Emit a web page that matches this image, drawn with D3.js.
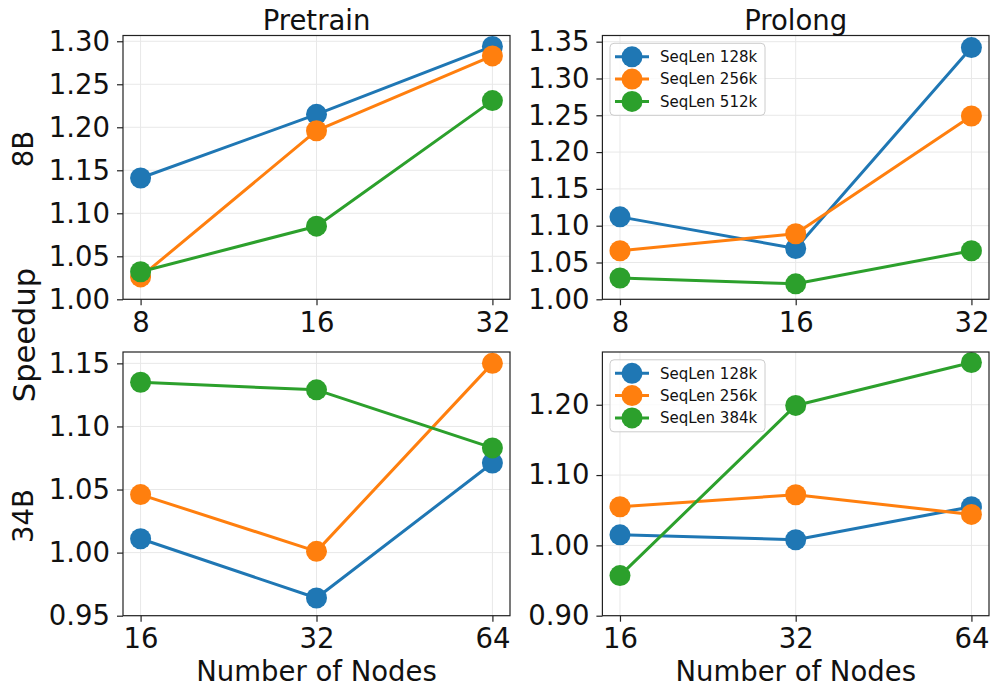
<!DOCTYPE html>
<html>
<head>
<meta charset="utf-8">
<script src="https://cdn.jsdelivr.net/npm/d3@7"></script>
<style>
  html, body { margin: 0; padding: 0; background: #fff; }
  svg { display: block; font-family: "DejaVu Sans", sans-serif; }
</style>
</head>
<body>
<svg id="chart" width="990" height="686"></svg>
<script>
// Node counts per model size
const nodes8B = [8, 16, 32];
const nodes34B = [16, 32, 64];

// Sequence-length series names
const seqLabels8B = ["SeqLen 128k", "SeqLen 256k", "SeqLen 512k"];
const seqLabels34B = ["SeqLen 128k", "SeqLen 256k", "SeqLen 384k"];
const seriesColors = ["#1f77b4", "#ff7f0e", "#2ca02c"];

// Speedup values, 8B model
const pretrain8B_128k = [1.141, 1.215, 1.294];
const pretrain8B_256k = [1.026, 1.196, 1.283];
const pretrain8B_512k = [1.032, 1.085, 1.231];
const prolong8B_128k = [1.112, 1.069, 1.342];
const prolong8B_256k = [1.066, 1.089, 1.249];
const prolong8B_512k = [1.029, 1.021, 1.066];

// Speedup values, 34B model
const pretrain34B_128k = [1.011, 0.964, 1.071];
const pretrain34B_256k = [1.046, 1.001, 1.150];
const pretrain34B_384k = [1.135, 1.129, 1.083];
const prolong34B_128k = [1.015, 1.008, 1.055];
const prolong34B_256k = [1.055, 1.072, 1.044];
const prolong34B_384k = [0.957, 1.199, 1.260];

// Y tick values per panel
const yTicksPretrain8B = [1.00, 1.05, 1.10, 1.15, 1.20, 1.25, 1.30];
const yTicksProlong8B = [1.00, 1.05, 1.10, 1.15, 1.20, 1.25, 1.30, 1.35];
const yTicksPretrain34B = [0.95, 1.00, 1.05, 1.10, 1.15];
const yTicksProlong34B = [0.90, 1.00, 1.10, 1.20];

const svg = d3.select("#chart");
const FONT = 27.5;

const colLeft = [123, 602.4];
const colRight = [510, 989];
const rowTop = [35.5, 352];
const rowBottom = [299.3, 615.7];

const panels = [
  { col: 0, row: 0, title: "Pretrain", nodes: nodes8B,
    series: [pretrain8B_128k, pretrain8B_256k, pretrain8B_512k],
    yDomain: [1.00, 1.3067], yTicks: yTicksPretrain8B, legend: null },
  { col: 1, row: 0, title: "Prolong", nodes: nodes8B,
    series: [prolong8B_128k, prolong8B_256k, prolong8B_512k],
    yDomain: [1.00, 1.3584], yTicks: yTicksProlong8B, legend: seqLabels8B },
  { col: 0, row: 1, title: null, nodes: nodes34B,
    series: [pretrain34B_128k, pretrain34B_256k, pretrain34B_384k],
    yDomain: [0.95, 1.159], yTicks: yTicksPretrain34B, legend: null },
  { col: 1, row: 1, title: null, nodes: nodes34B,
    series: [prolong34B_128k, prolong34B_256k, prolong34B_384k],
    yDomain: [0.90, 1.275], yTicks: yTicksProlong34B, legend: seqLabels34B }
];

panels.forEach(p => {
  const x0 = colLeft[p.col], x1 = colRight[p.col];
  const y0 = rowTop[p.row], y1 = rowBottom[p.row];
  const w = x1 - x0, h = y1 - y0;
  const g = svg.append("g").attr("transform", `translate(${x0},${y0})`);

  // log2 node axis with 5% padding on each side
  const lo = d3.min(p.nodes), hi = d3.max(p.nodes);
  const pad = Math.pow(2, 0.05 * Math.log2(hi / lo));
  const x = d3.scaleLog().base(2).domain([lo / pad, hi * pad]).range([0, w]);
  const y = d3.scaleLinear().domain(p.yDomain).range([h, 0]);

  // grid
  const grid = g.append("g");
  grid.selectAll("line.gx").data(p.nodes).join("line")
    .attr("x1", d => x(d)).attr("x2", d => x(d)).attr("y1", 0).attr("y2", h)
    .attr("stroke", "#e8e8e8").attr("stroke-width", 1);
  grid.selectAll("line.gy").data(p.yTicks).join("line")
    .attr("x1", 0).attr("x2", w).attr("y1", d => y(d)).attr("y2", d => y(d))
    .attr("stroke", "#e8e8e8").attr("stroke-width", 1);

  // series lines and markers
  p.series.forEach((vals, i) => {
    const pts = p.nodes.map((n, j) => [n, vals[j]]);
    g.append("path").datum(pts)
      .attr("fill", "none").attr("stroke", seriesColors[i]).attr("stroke-width", 3)
      .attr("stroke-linejoin", "round")
      .attr("d", d3.line().x(d => x(d[0])).y(d => y(d[1])));
    g.selectAll(null).data(pts).join("circle")
      .attr("cx", d => x(d[0])).attr("cy", d => y(d[1])).attr("r", 10.5)
      .attr("fill", seriesColors[i]);
  });

  // axes
  const xAxis = d3.axisBottom(x).tickValues(p.nodes).tickFormat(d3.format("d"))
    .tickSize(6).tickPadding(7);
  const yAxis = d3.axisLeft(y).tickValues(p.yTicks).tickFormat(d3.format(".2f"))
    .tickSize(6).tickPadding(7);
  const gx = g.append("g").attr("transform", `translate(0,${h})`).call(xAxis);
  const gy = g.append("g").call(yAxis);
  [gx, gy].forEach(a => {
    a.select(".domain").remove();
    a.selectAll(".tick line").attr("stroke", "#222").attr("stroke-width", 1.2);
    a.selectAll(".tick text").attr("fill", "#111")
      .style("font-family", "DejaVu Sans").style("font-size", FONT + "px");
  });

  // frame
  g.append("rect").attr("x", 0).attr("y", 0).attr("width", w).attr("height", h)
    .attr("fill", "none").attr("stroke", "#222").attr("stroke-width", 1.2);

  if (p.title) {
    g.append("text").attr("x", w / 2).attr("y", -5.5).attr("text-anchor", "middle")
      .attr("fill", "#111").style("font-size", FONT + "px").text(p.title);
  }
  if (p.row === 1) {
    g.append("text").attr("x", w / 2).attr("y", h + 65).attr("text-anchor", "middle")
      .attr("fill", "#111").style("font-size", FONT + "px").text("Number of Nodes");
  }

  if (p.legend) {
    const lg = g.append("g").attr("transform", "translate(7.6,7.8)");
    lg.append("rect").attr("width", 155).attr("height", 72).attr("rx", 4)
      .attr("fill", "#fff").attr("fill-opacity", 0.8)
      .attr("stroke", "#cccccc").attr("stroke-width", 1);
    p.legend.forEach((lab, i) => {
      const cy = 13.5 + i * 22.3;
      lg.append("line").attr("x1", 5).attr("x2", 39).attr("y1", cy).attr("y2", cy)
        .attr("stroke", seriesColors[i]).attr("stroke-width", 3);
      lg.append("circle").attr("cx", 22).attr("cy", cy).attr("r", 10.5)
        .attr("fill", seriesColors[i]);
      lg.append("text").attr("x", 50).attr("y", cy + 5.3).attr("fill", "#111")
        .style("font-size", "15px").text(lab);
    });
  }
});

// row and figure-level labels
const rowLabels = [["8B", 149], ["34B", 516]];
rowLabels.forEach(([t, cy]) => {
  svg.append("text").attr("transform", `translate(33,${cy}) rotate(-90)`)
    .attr("text-anchor", "middle").attr("fill", "#111")
    .style("font-size", FONT + "px").text(t);
});
svg.append("text").attr("transform", "translate(35,335) rotate(-90)")
  .attr("text-anchor", "middle").attr("fill", "#111")
  .style("font-size", "30.5px").text("Speedup");
</script>
</body>
</html>
